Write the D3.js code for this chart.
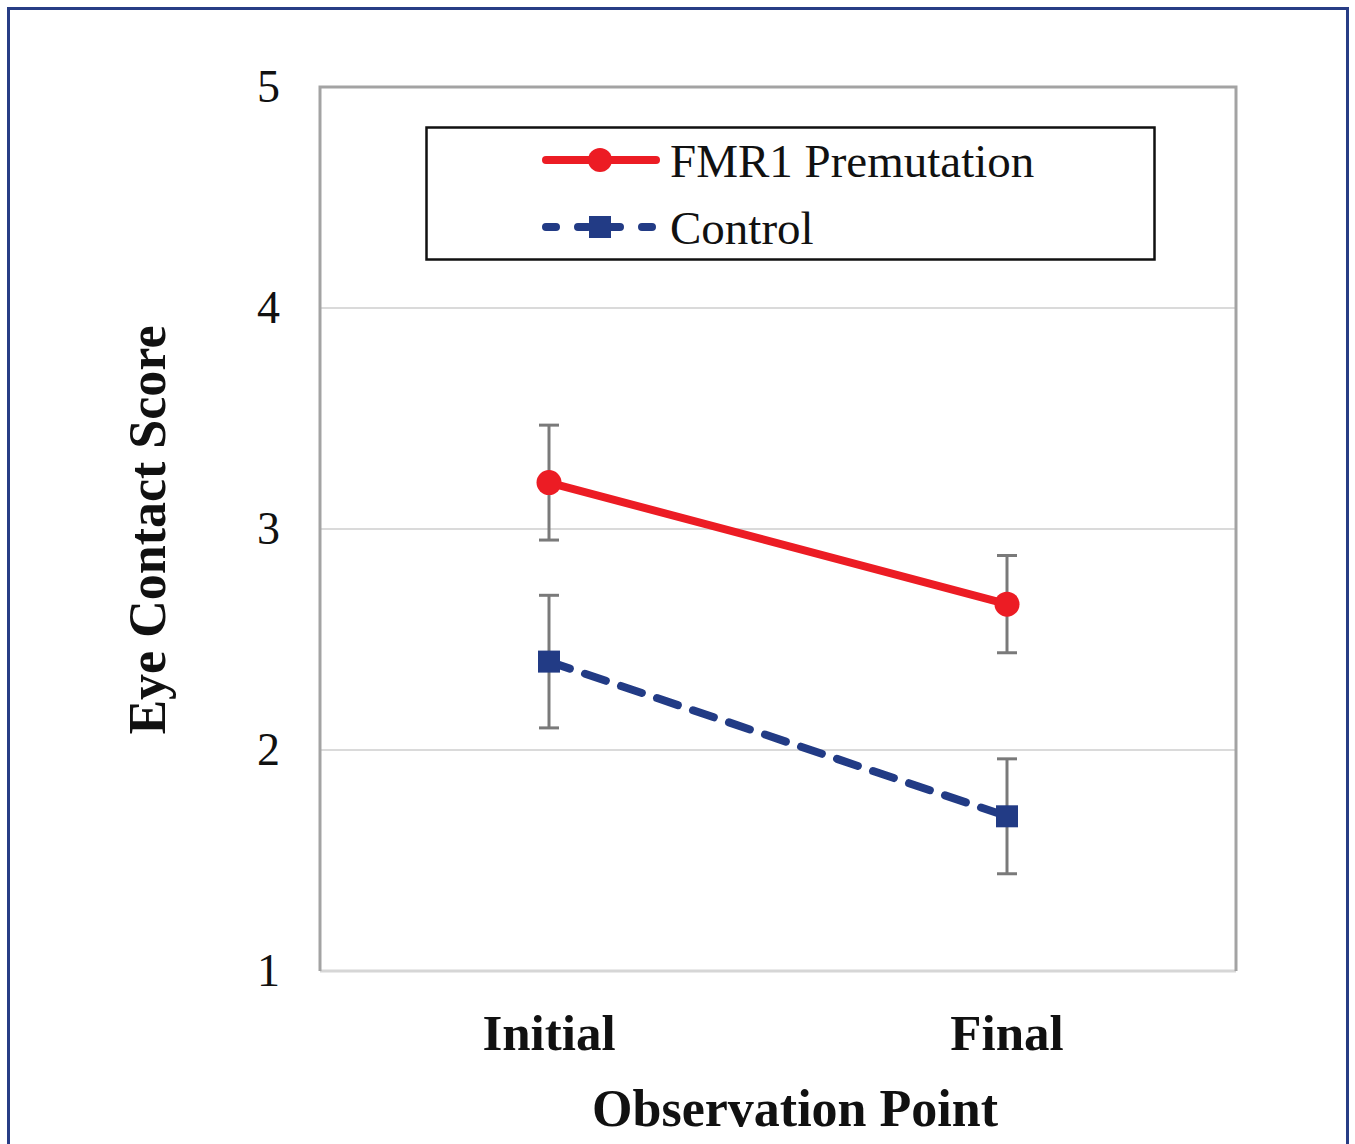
<!DOCTYPE html>
<html>
<head>
<meta charset="utf-8">
<script src="https://cdn.jsdelivr.net/npm/d3@7"></script>
<style>
  body { margin: 0; background: #fff; }
  text { font-family: "Liberation Serif", "Times New Roman", serif; fill: #111; }
</style>
</head>
<body>
<div id="visualization"></div>
<script>
// DATA
const categories = ['Initial', 'Final']
const yTicks = [1, 2, 3, 4, 5]
const seriesNames = ['FMR1 Premutation', 'Control']
const fmr1Values = [3.21, 2.66]
const fmr1Err = [0.26, 0.22]
const controlValues = [2.40, 1.70]
const controlErr = [0.30, 0.26]

const w = 1355
const h = 1144
const plot = { left: 320, right: 1236, top: 87, bottom: 971 }

const svg = d3.select('#visualization')
  .append('svg')
  .attr('width', w)
  .attr('height', h)

// outer frame
svg.append('rect')
  .attr('x', 8.5).attr('y', 8.5)
  .attr('width', 1339).attr('height', 1160)
  .attr('fill', 'none')
  .attr('stroke', '#283d85')
  .attr('stroke-width', 3)

//SCALES
const xScale = d3.scaleBand()
  .domain(categories)
  .range([plot.left, plot.right])

const yScale = d3.scaleLinear()
  .domain([1, 5])
  .range([plot.bottom, plot.top])

const xc = d => xScale(d) + xScale.bandwidth() / 2

//GRIDLINES
svg.append('g')
  .selectAll('line')
  .data(yTicks.slice(1, 4))
  .enter()
  .append('line')
  .attr('x1', plot.left).attr('x2', plot.right)
  .attr('y1', d => yScale(d)).attr('y2', d => yScale(d))
  .attr('stroke', '#dadada')
  .attr('stroke-width', 2)

// plot frame: bottom lighter than the rest
svg.append('line')
  .attr('x1', plot.left).attr('x2', plot.right)
  .attr('y1', plot.bottom).attr('y2', plot.bottom)
  .attr('stroke', '#d6d6d6').attr('stroke-width', 3)

svg.append('path')
  .attr('d', `M${plot.left},${plot.bottom} V${plot.top} H${plot.right} V${plot.bottom}`)
  .attr('fill', 'none')
  .attr('stroke', '#a3a3a3')
  .attr('stroke-width', 3)

//AXES
const yaxis = d3.axisLeft(yScale)
  .tickValues(yTicks)
  .tickSize(0)
  .tickPadding(40)
  .tickFormat(d3.format('d'))

const gy = svg.append('g')
  .attr('transform', `translate(${plot.left},0)`)
  .call(yaxis)
gy.select('.domain').remove()
gy.selectAll('text')
  .attr('font-family', '"Liberation Serif", serif')
  .attr('font-size', 46)
  .attr('fill', '#111')

const xaxis = d3.axisBottom(xScale)
  .tickSize(0)
  .tickPadding(0)

const gx = svg.append('g')
  .attr('transform', `translate(0,${plot.bottom})`)
  .call(xaxis)
gx.select('.domain').remove()
gx.selectAll('text')
  .attr('font-family', '"Liberation Serif", serif')
  .attr('font-size', 51)
  .attr('font-weight', 'bold')
  .attr('fill', '#111')
  .attr('dy', null)
  .attr('y', 79)

// axis titles
svg.append('text')
  .text('Observation Point')
  .attr('text-anchor', 'middle')
  .attr('font-size', 52)
  .attr('font-weight', 'bold')
  .attr('transform', `translate(795,1126)`)

svg.append('text')
  .text('Eye Contact Score')
  .attr('text-anchor', 'middle')
  .attr('font-size', 52)
  .attr('font-weight', 'bold')
  .attr('transform', `translate(165,530) rotate(-90)`)

//SERIES
const series = [
  { name: seriesNames[0], values: fmr1Values, err: fmr1Err, color: '#ec1c24', dash: null, marker: 'circle' },
  { name: seriesNames[1], values: controlValues, err: controlErr, color: '#223b85', dash: '22 16', marker: 'square' }
]

series.forEach(s => {
  const pts = categories.map((c, i) => ({ c, v: s.values[i], e: s.err[i] }))

  // error bars
  const eb = svg.append('g').attr('stroke', '#7a7a7a').attr('stroke-width', 3)
  pts.forEach(p => {
    eb.append('line')
      .attr('x1', xc(p.c)).attr('x2', xc(p.c))
      .attr('y1', yScale(p.v + p.e)).attr('y2', yScale(p.v - p.e))
    ;[p.v + p.e, p.v - p.e].forEach(v => {
      eb.append('line')
        .attr('x1', xc(p.c) - 10).attr('x2', xc(p.c) + 10)
        .attr('y1', yScale(v)).attr('y2', yScale(v))
    })
  })

  const line = d3.line().x(d => xc(d.c)).y(d => yScale(d.v))
  svg.append('path')
    .datum(pts)
    .attr('d', line)
    .attr('fill', 'none')
    .attr('stroke', s.color)
    .attr('stroke-width', 8)
    .attr('stroke-linecap', 'round')
    .attr('stroke-dasharray', s.dash)

  pts.forEach(p => {
    if (s.marker === 'circle') {
      svg.append('circle')
        .attr('cx', xc(p.c)).attr('cy', yScale(p.v)).attr('r', 12.5)
        .attr('fill', s.color)
    } else {
      svg.append('rect')
        .attr('x', xc(p.c) - 11).attr('y', yScale(p.v) - 11)
        .attr('width', 22).attr('height', 22)
        .attr('fill', s.color)
    }
  })
})

//LEGEND
const legend = svg.append('g')
legend.append('rect')
  .attr('x', 426.5).attr('y', 127.5)
  .attr('width', 728).attr('height', 132)
  .attr('fill', '#fff')
  .attr('stroke', '#111')
  .attr('stroke-width', 2.5)

series.forEach((s, i) => {
  const ly = 160 + i * 67
  legend.append('line')
    .attr('x1', 546).attr('x2', 656)
    .attr('y1', ly).attr('y2', ly)
    .attr('stroke', s.color)
    .attr('stroke-width', 8)
    .attr('stroke-linecap', 'round')
    .attr('stroke-dasharray', s.dash ? '10 22' : null)
  if (s.marker === 'circle') {
    legend.append('circle').attr('cx', 600).attr('cy', ly).attr('r', 12).attr('fill', s.color)
  } else {
    legend.append('rect').attr('x', 589).attr('y', ly - 11).attr('width', 22).attr('height', 22).attr('fill', s.color)
  }
  legend.append('text')
    .text(s.name)
    .attr('x', 670)
    .attr('y', ly + 17)
    .attr('font-size', 47)
})
</script>
</body>
</html>
